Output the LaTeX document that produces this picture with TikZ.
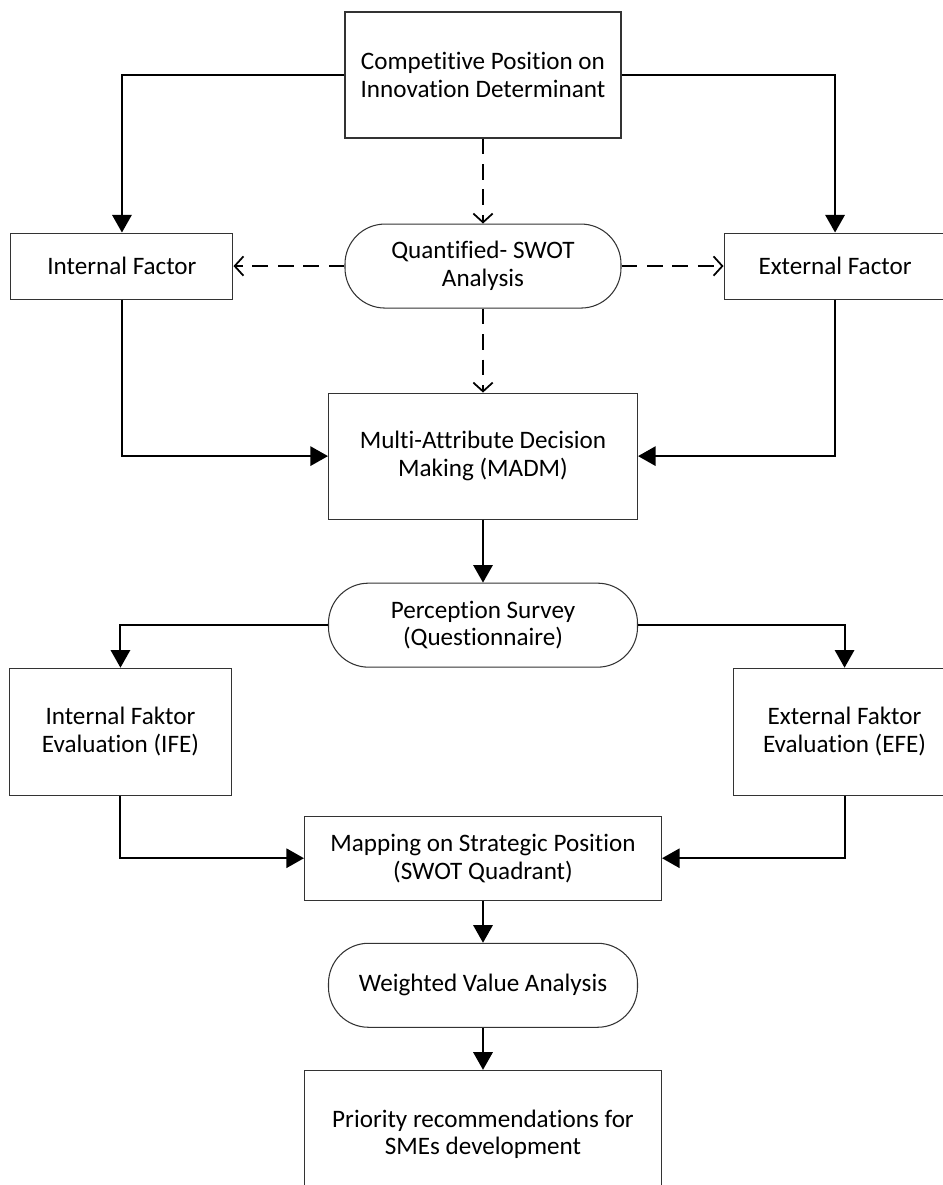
\documentclass[tikz,border=0pt]{standalone}
\usepackage{fontspec}
\setmainfont{Carlito}[Ligatures={NoCommon}]
\usepackage{tikz}
\usetikzlibrary{positioning, arrows.meta}
\definecolor{ink}{HTML}{000000}
\definecolor{frame}{HTML}{333333}
\tikzset{
  procbox/.style = {rectangle, draw=frame, line width=0.6pt, fill=white,
                    minimum width=5.52cm, minimum height=2.52cm,
                    align=center, inner sep=2pt, font=\fontsize{14.3}{15.8}\selectfont},
  sidebox/.style = {procbox, minimum width=4.44cm, minimum height=1.32cm},
  term/.style    = {rectangle, rounded corners=0.8cm, draw=frame, line width=0.6pt,
                    fill=white, minimum width=6.18cm, minimum height=1.68cm,
                    align=center, inner sep=2pt, font=\fontsize{14.3}{15.8}\selectfont},
  ar/.style      = {-{Triangle[length=10pt,width=11pt]}, line width=1.1pt, draw=ink},
  dar/.style     = {-{Straight Barb[length=5pt,width=11pt]}, line width=1pt, draw=ink,
                    dash pattern=on 9pt off 5.5pt},
}
\begin{document}
\begin{tikzpicture}[node distance=1.7cm and 2.1cm]

  \useasboundingbox (0,0) rectangle (18.86,-23.7);

  \node[procbox] (top) at (9.66,-1.5) {Competitive Position on\\Innovation Determinant};
  \node[term, minimum width=5.52cm, below=1.7cm of top] (swot) {Quantified- SWOT\\Analysis};
  \node[sidebox, left=2.22cm of swot] (intf) {Internal Factor};
  \node[sidebox, right=2.04cm of swot] (extf) {External Factor};
  \node[procbox, minimum width=6.18cm, below=1.68cm of swot] (madm) {Multi-Attribute Decision\\Making (MADM)};
  \node[term, below=1.26cm of madm] (survey) {Perception Survey\\(Questionnaire)};
  \node[sidebox, minimum height=2.54cm, below left=0cm and 1.92cm of survey.south west] (ife)
       {Internal Faktor\\Evaluation (IFE)};
  \node[sidebox, minimum height=2.54cm, below right=0cm and 1.9cm of survey.south east] (efe)
       {External Faktor\\Evaluation (EFE)};
  \node[procbox, minimum width=7.14cm, minimum height=1.68cm, below=2.96cm of survey] (swotmap)
       {Mapping on Strategic Position\\(SWOT Quadrant)};
  \node[term, below=0.84cm of swotmap] (weight) {Weighted Value Analysis};
  \node[procbox, minimum width=7.14cm, minimum height=2.56cm, below=0.84cm of weight] (prio)
       {Priority recommendations for\\SMEs development};

  \draw[ar] (top.west) -| (intf.north);
  \draw[ar] (top.east) -| (extf.north);
  \draw[dar] (top) -- (swot);
  \draw[dar] (swot) -- (intf);
  \draw[dar] (swot) -- (extf);
  \draw[dar] (swot) -- (madm);
  \draw[ar] (intf.south) |- (madm.west);
  \draw[ar] (extf.south) |- (madm.east);

  \draw[ar] (madm) -- (survey);
  \draw[ar] (survey.west) -| (ife.north);
  \draw[ar] (survey.east) -| (efe.north);
  \draw[ar] (ife.south) |- (swotmap.west);
  \draw[ar] (efe.south) |- (swotmap.east);
  \draw[ar] (swotmap) -- (weight);
  \draw[ar] (weight) -- (prio);

\end{tikzpicture}
\end{document}
